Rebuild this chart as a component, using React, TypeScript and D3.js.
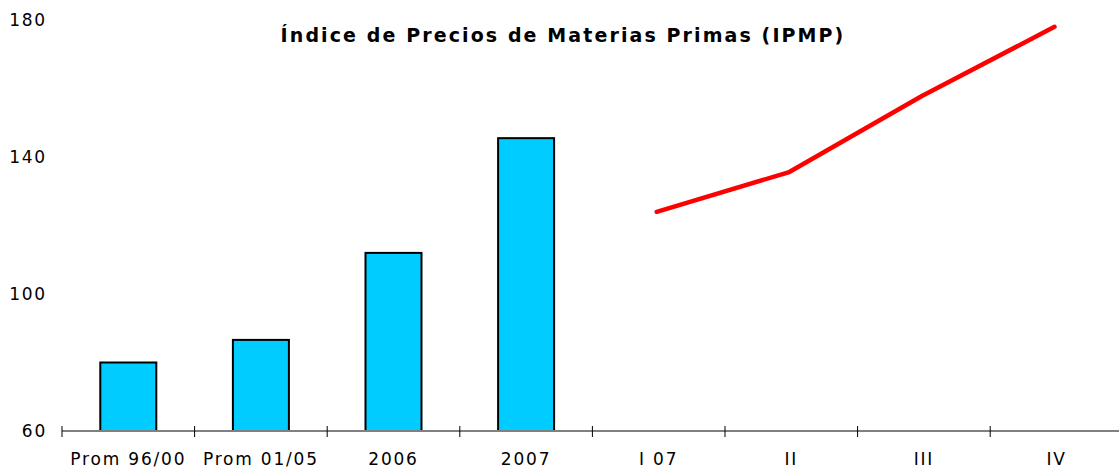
import React from "react";
import * as d3 from "d3";

const categories = ["Prom 96/00", "Prom 01/05", "2006", "2007", "I 07", "II", "III", "IV"];
const barCategories = ["Prom 96/00", "Prom 01/05", "2006", "2007"];
const barValues = [80, 86.6, 112, 145.5];
const lineCategories = ["I 07", "II", "III", "IV"];
const lineValues = [124, 135.6, 157.8, 178];
const yTicks = [60, 100, 140, 180];
const title = "Índice de Precios de Materias Primas (IPMP)";

export default function App() {
  const W = 1119, H = 470;
  const x = d3.scaleBand<string>().domain(categories).range([62, 62 + 132.6 * 8]);
  const y = d3.scaleLinear().domain([60, 180]).range([431, 20]);
  const barW = 56;
  const line = d3.line<number>()
    .x((_, i) => (x(lineCategories[i]) as number) + x.bandwidth() / 2 - 2)
    .y((d) => y(d));
  const font = "'DejaVu Sans', Verdana, sans-serif";
  const boundaries = d3.range(categories.length + 1).map((i) => 62 + 132.6 * i);
  return (
    <svg width={W} height={H} style={{ position: "absolute", left: 0, top: 0, background: "#fff" }}>
      <text x={563} y={42} textAnchor="middle" fontFamily={font} fontWeight="bold" fontSize={19} letterSpacing={2.1}>{title}</text>
      {yTicks.map((t) => (
        <text key={t} x={47} y={y(t) + 6} textAnchor="end" fontFamily={font} fontSize={17} letterSpacing={1.8}>{t}</text>
      ))}
      {barCategories.map((c, i) => (
        <rect key={c}
          x={(x(c) as number) + x.bandwidth() / 2 - barW / 2}
          y={y(barValues[i])}
          width={barW}
          height={y(60) - y(barValues[i])}
          fill="#00CCFF" stroke="#000" strokeWidth={2} />
      ))}
      <line x1={62} x2={W} y1={431} y2={431} stroke="#808080" strokeWidth={2} />
      {boundaries.map((b, i) => (
        <line key={i} x1={b} x2={b} y1={426} y2={437} stroke="#000" strokeWidth={1} />
      ))}
      <path d={line(lineValues) || ""} fill="none" stroke="#FF0000" strokeWidth={4.5} strokeLinecap="round" strokeLinejoin="round" />
      {categories.map((c) => (
        <text key={c} x={(x(c) as number) + x.bandwidth() / 2} y={465} textAnchor="middle" fontFamily={font} fontSize={17} letterSpacing={1.8}>{c}</text>
      ))}
    </svg>
  );
}
